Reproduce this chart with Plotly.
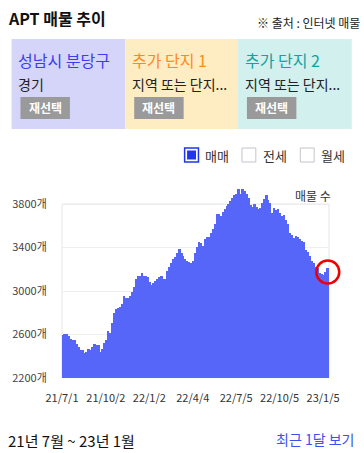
import pandas as pd
import plotly.graph_objects as go

# ---------------- data ----------------
start_date = "2021-07-03"
end_date = "2023-01-15"
listings = [
    2600, 2607, 2607, 2586, 2560, 2550, 2550, 2510, 2485, 2457,
    2457, 2433, 2442, 2467, 2457, 2482, 2513, 2507, 2500, 2440,
    2470, 2519, 2550, 2632, 2611, 2709, 2800, 2834, 2846, 2850,
    2883, 2954, 2935, 2935, 2954, 2994, 3034, 3107, 3138, 3138,
    3165, 3138, 3138, 3126, 3086, 3058, 3071, 3092, 3107, 3129,
    3138, 3113, 3107, 3184, 3218, 3254, 3291, 3310, 3352, 3386,
    3346, 3322, 3291, 3280, 3270, 3254, 3276, 3352, 3407, 3453,
    3438, 3416, 3478, 3499, 3499, 3530, 3567, 3613, 3711, 3711,
    3692, 3723, 3754, 3784, 3797, 3830, 3852, 3886, 3892, 3935,
    3892, 3935, 3920, 3892, 3852, 3790, 3769, 3800, 3775, 3751,
    3760, 3806, 3843, 3883, 3837, 3812, 3714, 3760, 3745, 3751,
    3714, 3690, 3699, 3653, 3616, 3536, 3515, 3484, 3506, 3494,
    3475, 3462, 3453, 3377, 3361, 3322, 3279, 3254, 3223, 3209,
    3168, 3156, 3147, 3177, 3209,
]
dates = pd.date_range(start_date, end_date, periods=len(listings))
highlight_value = 3175  # centre of the red ring around the latest value

y_ticks = [2200, 2600, 3000, 3400, 3800]
y_tick_labels = [f"{v}개" for v in y_ticks]
x_ticks = ["2021-07-01", "2021-10-02", "2022-01-02", "2022-04-04",
           "2022-07-05", "2022-10-05", "2023-01-05"]
x_tick_labels = ["21/7/1", "21/10/2", "22/1/2", "22/4/4",
                 "22/7/5", "22/10/5", "23/1/5"]

panel_titles = ["성남시 분당구", "추가 단지 1", "추가 단지 2"]
panel_subs = ["경기", "지역 또는 단지...", "지역 또는 단지..."]
panel_title_colors = ["#3c3cf0", "#ff8a1c", "#12a3a0"]
panel_bg = ["#d5d5fa", "#feedc2", "#d1f0ee"]
legend_items = ["매매", "전세", "월세"]

# ---------------- layout geometry ----------------
W, H = 364, 453
L, R, T, B = 59, 35, 182, 75
PW, PH = W - L - R, H - T - B
FONT = "Noto Sans CJK KR"


def px(x):
    return (x - L) / PW


def py(y):
    return (H - B - y) / PH


def note(text, x, y, size, color, anchor="left", bold=False):
    if bold:
        text = f"<b>{text}</b>"
    return dict(text=text, x=px(x), y=py(y), xref="paper", yref="paper",
                xanchor=anchor, yanchor="middle", showarrow=False,
                borderpad=0, borderwidth=0,
                font=dict(size=size, color=color, family=FONT))


fig = go.Figure()
fig.add_trace(go.Bar(
    x=dates, y=listings,
    marker=dict(color="#5566f9", line=dict(width=0)),
    hoverinfo="x+y",
))
# red ring around the latest value (not clipped by the plot area)
fig.add_trace(go.Scatter(
    x=[dates[-1]], y=[highlight_value], mode="markers", cliponaxis=False,
    marker=dict(symbol="circle-open", size=23, color="#ee0000",
                line=dict(color="#ee0000", width=2.5)),
    hoverinfo="skip",
))

shapes = []
annotations = []

# plot box (2200..3800)
shapes.append(dict(type="rect", xref="paper", yref="y", x0=0, x1=1,
                   y0=2200, y1=3800, line=dict(color="#e6e6e6", width=1),
                   fillcolor="rgba(0,0,0,0)", layer="below"))

# header
annotations.append(note("APT 매물 추이", 4, 18, 16, "#111", bold=True))
annotations.append(note("※ 출처 : 인터넷 매물", 360, 22, 12, "#222", anchor="right"))

# panels
panel_x = [(8, 123), (123, 237), (237, 352)]
for i, (x0, x1) in enumerate(panel_x):
    shapes.append(dict(type="rect", xref="paper", yref="paper",
                       x0=px(x0), x1=px(x1), y0=py(129), y1=py(39),
                       fillcolor=panel_bg[i], line=dict(width=0), layer="below"))
    annotations.append(note(panel_titles[i], x0 + 7, 60, 16, panel_title_colors[i]))
    annotations.append(note(panel_subs[i], x0 + 7, 84, 14, "#222"))
    shapes.append(dict(type="rect", xref="paper", yref="paper",
                       x0=px(x0 + 9), x1=px(x0 + 59), y0=py(119), y1=py(97),
                       fillcolor="#9a9a9a", line=dict(width=0), layer="above"))
    annotations.append(note("재선택", x0 + 34, 108, 12, "#ffffff", anchor="center", bold=True))

# legend-like checkboxes
box_x = [183, 241, 300]
for i, bx in enumerate(box_x):
    if i == 0:
        shapes.append(dict(type="rect", xref="paper", yref="paper",
                           x0=px(bx), x1=px(bx + 14), y0=py(162), y1=py(148),
                           fillcolor="#ffffff", line=dict(color="#2035ee", width=1.5)))
        shapes.append(dict(type="rect", xref="paper", yref="paper",
                           x0=px(bx + 2.5), x1=px(bx + 11.5), y0=py(159.5), y1=py(150.5),
                           fillcolor="#2035ee", line=dict(width=0)))
    else:
        shapes.append(dict(type="rect", xref="paper", yref="paper",
                           x0=px(bx), x1=px(bx + 14), y0=py(162), y1=py(148),
                           fillcolor="#ffffff", line=dict(color="#c4c4cc", width=1)))
    annotations.append(note(legend_items[i], bx + 21, 155, 13, "#333"))

# axis title-like label
annotations.append(note("매물 수", 331, 195, 12, "#333", anchor="right"))

# footer
annotations.append(note("21년 7월 ~ 23년 1월", 4, 440, 15, "#111"))
annotations.append(note("최근 1달 보기", 354, 439, 14, "#3a50f0", anchor="right"))

fig.update_layout(
    width=W, height=H, autosize=False,
    margin=dict(l=L, r=R, t=T, b=B, pad=0),
    paper_bgcolor="#ffffff", plot_bgcolor="#ffffff",
    bargap=0, showlegend=False,
    font=dict(family=FONT, size=11, color="#333"),
    shapes=shapes, annotations=annotations,
    xaxis=dict(
        range=["2021-07-01", "2023-01-17 14:00"],
        tickvals=x_ticks, ticktext=x_tick_labels,
        showgrid=False, zeroline=False, showline=False,
        ticks="outside", ticklen=10, tickcolor="rgba(0,0,0,0)",
        tickfont=dict(size=11, color="#333", family=FONT),
        fixedrange=True,
    ),
    yaxis=dict(
        range=[2200, 2200 + PH * 400 / 43.5],
        tickvals=y_ticks, ticktext=y_tick_labels,
        showgrid=True, gridcolor="#eeeeee", gridwidth=1,
        zeroline=False, showline=False,
        ticks="outside", ticklen=12, tickcolor="rgba(0,0,0,0)",
        tickfont=dict(size=11, color="#444", family=FONT),
        fixedrange=True,
    ),
)

fig.write_html("out.html", config={"displayModeBar": False},
               post_script="document.body.style.margin='0';document.body.style.overflow='hidden';")
